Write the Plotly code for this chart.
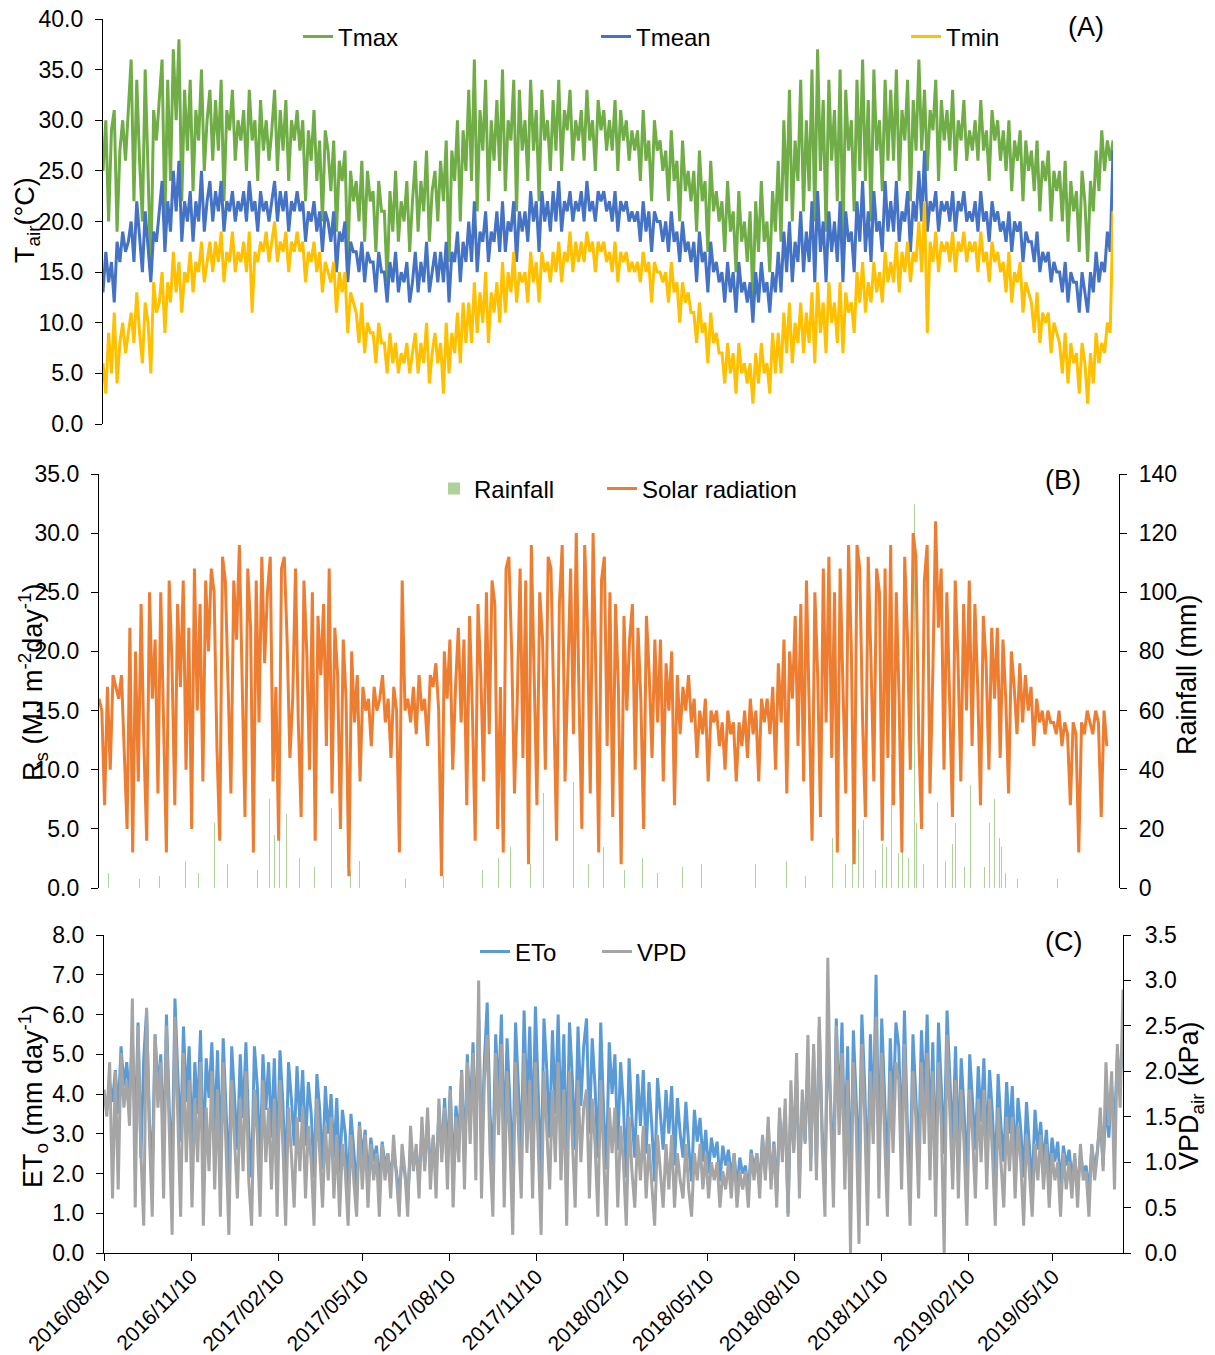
import plotly.graph_objects as go
import pandas as pd

START = "2016-08-10"
STEP = "3D"

# ---------------- Panel A: air temperature (degC), one value every 3 days ----------------
tmax = [
    25, 30, 20, 29, 31, 19, 27, 30, 26, 31,
    36, 22, 34, 26, 20, 35, 24, 15, 31, 28,
    32, 36, 20, 34, 24, 37, 30, 38, 22, 33,
    27, 34, 23, 31, 28, 35, 25, 30, 33, 26,
    32, 27, 34, 22, 31, 29, 33, 26, 30, 28,
    31, 25, 33, 28, 30, 24, 32, 27, 30, 26,
    29, 33, 25, 31, 27, 32, 24, 30, 28, 31,
    27, 30, 22, 29, 26, 31, 24, 28, 20, 29,
    27, 23, 28, 19, 26, 24, 27, 16, 25, 22,
    24, 20, 26, 18, 25, 22, 23, 17, 24, 21,
    21, 14, 23, 19, 25, 18, 22, 20, 24, 17,
    22, 26, 19, 24, 21, 27, 18, 23, 25, 20,
    26, 22, 28, 16, 27, 24, 30, 20, 29, 25,
    33, 24, 36, 21, 31, 27, 34, 22, 30, 26,
    32, 25, 35, 23, 30, 28, 34, 21, 33, 27,
    30, 24, 34, 27, 31, 22, 33, 28, 30, 25,
    32, 27, 34, 25, 31, 29, 33, 26, 30, 28,
    31, 26, 33, 28, 30, 25, 32, 29, 31, 27,
    30, 27, 32, 25, 31, 28, 30, 26, 29, 27,
    29, 24, 31, 26, 28, 22, 30, 27, 28, 25,
    27, 22, 29, 24, 26, 20, 28, 23, 25, 22,
    25, 19, 27, 22, 24, 17, 26, 21, 23, 20,
    22, 17, 24, 19, 21, 15, 23, 18, 20, 16,
    21, 12, 22, 17, 24, 18, 20, 15, 23, 19,
    26, 18, 30, 22, 33, 20, 28, 24, 34, 21,
    30, 23, 35, 20, 37, 25, 32, 19, 34, 26,
    31, 22, 35, 18, 33, 27, 30, 21, 34, 25,
    36, 24, 32, 20, 35, 27, 30, 23, 34, 26,
    33, 26, 35, 24, 31, 28, 34, 22, 32, 27,
    36, 27, 33, 25, 31, 29, 34, 24, 32, 28,
    31, 27, 33, 25, 30, 28, 32, 26, 29, 27,
    30, 26, 32, 27, 29, 24, 31, 28, 30, 26,
    29, 25, 30, 23, 28, 26, 29, 22, 28, 25,
    27, 23, 28, 21, 26, 24, 27, 20, 25, 23,
    25, 20, 26, 18, 24, 21, 23, 17, 25, 22,
    16, 24, 21, 27, 23, 29, 25, 28, 26, 28,
]
tmean = [
    13, 17, 14, 16, 12, 18, 16, 19, 17, 18,
    20, 16, 22, 18, 15, 21, 17, 14, 19, 18,
    21, 24, 17, 22, 19, 25, 21, 26, 18, 22,
    20, 23, 18, 22, 20, 25, 19, 22, 24, 20,
    23, 21, 24, 19, 22, 21, 23, 20, 22, 21,
    23, 20, 24, 21, 22, 19, 23, 21, 22, 20,
    22, 24, 20, 23, 21, 23, 19, 22, 21, 23,
    21, 22, 18, 21, 20, 22, 19, 21, 17, 21,
    20, 18, 21, 15, 19, 18, 20, 14, 18, 17,
    17, 15, 18, 14, 17, 16, 16, 13, 17, 15,
    15, 12, 16, 14, 17, 13, 15, 14, 16, 12,
    14, 17, 13, 16, 14, 18, 13, 15, 17, 14,
    17, 14, 18, 12, 17, 16, 19, 14, 18, 16,
    20, 16, 22, 15, 19, 18, 21, 16, 19, 18,
    21, 17, 22, 17, 20, 19, 22, 16, 21, 19,
    21, 18, 23, 20, 22, 17, 23, 20, 22, 19,
    23, 20, 24, 19, 22, 21, 23, 20, 22, 21,
    23, 20, 24, 21, 22, 20, 23, 22, 23, 21,
    22, 20, 23, 19, 22, 21, 22, 20, 21, 20,
    21, 18, 22, 19, 21, 17, 21, 20, 20, 18,
    20, 17, 21, 18, 19, 16, 20, 17, 18, 16,
    18, 14, 19, 16, 17, 13, 18, 15, 16, 14,
    15, 12, 16, 13, 15, 11, 16, 13, 14, 12,
    14, 10, 15, 12, 16, 13, 14, 11, 15, 13,
    17, 13, 19, 15, 20, 14, 18, 16, 21, 15,
    19, 16, 22, 14, 23, 17, 20, 14, 21, 17,
    20, 16, 22, 14, 21, 18, 19, 15, 22, 18,
    24, 17, 21, 16, 23, 19, 20, 17, 24, 19,
    22, 19, 24, 18, 21, 20, 23, 17, 22, 20,
    25, 20, 27, 19, 22, 21, 23, 19, 22, 21,
    22, 20, 23, 19, 22, 21, 23, 20, 21, 20,
    22, 19, 23, 20, 21, 18, 22, 20, 21, 19,
    20, 18, 21, 17, 20, 19, 20, 16, 19, 18,
    18, 16, 19, 15, 17, 16, 17, 14, 16, 15,
    15, 13, 16, 12, 15, 14, 14, 11, 15, 13,
    11, 15, 13, 17, 14, 16, 15, 19, 17, 27,
]
tmin = [
    6, 3, 9, 5, 11, 4, 8, 10, 7, 9,
    11, 8, 13, 9, 6, 12, 10, 5, 14, 11,
    12, 15, 9, 14, 12, 17, 13, 16, 11, 15,
    14, 17, 13, 16, 15, 18, 14, 16, 18, 15,
    18, 16, 19, 14, 17, 16, 19, 15, 17, 16,
    18, 15, 19, 11, 17, 16, 18, 17, 19, 16,
    18, 20, 16, 18, 17, 19, 15, 18, 17, 19,
    17, 18, 14, 17, 16, 18, 15, 17, 13, 16,
    15, 14, 16, 11, 15, 13, 15, 9, 13, 12,
    11, 8, 12, 7, 10, 9, 9, 6, 10, 8,
    8, 5, 9, 6, 8, 5, 7, 6, 8, 5,
    7, 9, 5, 8, 6, 10, 4, 7, 9, 6,
    8, 3, 10, 5, 9, 7, 11, 6, 12, 8,
    12, 8, 14, 9, 13, 10, 15, 8, 13, 11,
    14, 10, 16, 11, 15, 13, 17, 12, 15, 14,
    15, 12, 17, 14, 16, 12, 17, 15, 16, 14,
    17, 15, 18, 14, 17, 16, 19, 15, 18, 16,
    18, 16, 19, 17, 18, 15, 18, 17, 18, 16,
    17, 15, 18, 14, 17, 16, 17, 15, 16, 15,
    16, 14, 17, 15, 16, 12, 16, 15, 15, 14,
    15, 12, 16, 13, 14, 10, 14, 12, 13, 11,
    11, 8, 12, 9, 10, 6, 11, 8, 9, 7,
    7, 4, 8, 5, 7, 3, 8, 5, 6, 4,
    6, 2, 7, 4, 8, 5, 6, 3, 9, 5,
    9, 5, 11, 7, 12, 6, 10, 8, 12, 7,
    11, 8, 13, 6, 14, 9, 12, 7, 14, 10,
    12, 8, 14, 7, 13, 11, 12, 9, 15, 12,
    16, 11, 14, 12, 16, 13, 15, 12, 17, 14,
    16, 14, 18, 13, 17, 15, 18, 14, 17, 16,
    20, 15, 22, 9, 18, 16, 19, 15, 18, 17,
    18, 16, 19, 15, 18, 17, 19, 16, 18, 17,
    18, 15, 19, 16, 17, 14, 18, 16, 17, 15,
    16, 13, 17, 12, 15, 14, 16, 11, 14, 13,
    12, 9, 13, 8, 11, 10, 11, 7, 10, 9,
    8, 5, 9, 4, 8, 6, 7, 3, 8, 6,
    2, 7, 4, 9, 6, 8, 7, 10, 9, 21,
]

# ---------------- Panel B: solar radiation (MJ m-2 day-1) and rainfall (mm) ----------------
solar = [
    16, 15, 7, 17, 10, 18, 17, 16, 18, 12,
    5, 22, 3, 20, 9, 24, 12, 4, 25, 16,
    21, 8, 25, 14, 3, 26, 19, 7, 24, 17,
    26, 10, 22, 5, 27, 15, 24, 9, 26, 20,
    27, 25, 12, 4, 28, 26, 18, 8, 26, 21,
    29, 16, 6, 27, 22, 3, 26, 14, 28, 19,
    25, 28, 9, 17, 4, 27, 28, 21, 11, 16,
    27, 14, 6, 26, 20, 10, 25, 4, 23, 18,
    24, 12, 27, 8, 22, 18, 5, 21, 16, 1,
    20, 14, 18, 9, 17, 15, 16, 12, 17, 15,
    16, 18, 14, 16, 11, 17, 15, 3, 26, 15,
    16, 14, 17, 13, 18, 15, 16, 12, 18, 17,
    19, 15, 1, 20, 16, 21, 10, 17, 22, 14,
    21, 7, 23, 15, 4, 24, 18, 9, 25, 13,
    26, 24, 5, 17, 3, 27, 28, 20, 8, 16,
    27, 11, 26, 2, 29, 18, 7, 25, 21, 10,
    28, 27, 14, 4, 24, 29, 9, 19, 27, 13,
    30, 16, 5, 29, 22, 8, 30, 18, 3, 26,
    28, 12, 25, 6, 24, 17, 2, 23, 15, 21,
    24, 10, 22, 16, 5, 23, 18, 11, 21, 14,
    21, 9, 19, 15, 20, 7, 18, 13, 17, 15,
    18, 14, 16, 11, 15, 13, 16, 9, 15, 14,
    15, 12, 14, 10, 15, 13, 14, 9, 14, 12,
    15, 11, 16, 13, 15, 9, 16, 14, 16, 13,
    17, 10, 19, 14, 21, 8, 20, 16, 23, 12,
    24, 9, 26, 15, 4, 25, 18, 6, 27, 14,
    28, 11, 25, 3, 27, 17, 8, 29, 20, 2,
    29, 27, 14, 6, 28, 19, 9, 27, 25, 4,
    27, 11, 29, 7, 25, 16, 3, 28, 21, 10,
    30, 28, 13, 5, 26, 29, 8, 18, 31, 22,
    27, 10, 25, 16, 6, 26, 19, 9, 24, 15,
    26, 12, 24, 17, 7, 23, 19, 10, 22, 16,
    22, 11, 21, 16, 8, 20, 17, 13, 19, 14,
    18, 15, 17, 12, 16, 14, 15, 13, 15, 14,
    14, 13, 15, 12, 14, 13, 7, 14, 13, 3,
    14, 13, 15, 14, 13, 15, 14, 6, 15, 12,
]
rain_dates = [
    "2016-08-20", "2016-09-22", "2016-10-14", "2016-10-27", "2016-11-10", "2016-11-24",
    "2016-12-11", "2016-12-25", "2017-01-13", "2017-01-26", "2017-02-08", "2017-02-14",
    "2017-02-19", "2017-02-26", "2017-03-12", "2017-03-28", "2017-04-15", "2017-05-06",
    "2017-05-15", "2017-07-04", "2017-08-13", "2017-09-24", "2017-10-11", "2017-10-24",
    "2017-11-05", "2017-11-14", "2017-11-28", "2017-12-06", "2017-12-21", "2017-12-30",
    "2018-01-15", "2018-01-31", "2018-02-23", "2018-03-14", "2018-03-30", "2018-04-26",
    "2018-05-16", "2018-07-13", "2018-08-15", "2018-09-04", "2018-10-03", "2018-10-17",
    "2018-10-24", "2018-10-31", "2018-11-05", "2018-11-18", "2018-11-25", "2018-11-30",
    "2018-12-05", "2018-12-12", "2018-12-17", "2018-12-23", "2018-12-29", "2019-01-01",
    "2019-01-08", "2019-01-23", "2019-02-01", "2019-02-08", "2019-02-11", "2019-02-21",
    "2019-02-27", "2019-03-14", "2019-03-20", "2019-03-25", "2019-03-30", "2019-04-01",
    "2019-04-06", "2019-04-19", "2019-05-31",
]
rain_mm = [
    5, 3, 4, 6, 9, 5, 22, 8, 12, 6, 30, 18, 50, 25, 10, 7, 27, 6, 9, 3,
    4, 6, 10, 14, 20, 8, 32, 12, 18, 36, 8, 14, 6, 10, 5, 7, 8, 8, 9, 4,
    17, 8, 34, 20, 23, 6, 15, 14, 45, 12, 36, 10, 130, 22, 8, 29, 9, 15, 22, 7,
    35, 7, 22, 30, 17, 14, 5, 3, 3,
]

# ---------------- Panel C: reference ET (mm day-1) and VPD (kPa) ----------------
eto = [
    4.0, 3.6, 4.3, 3.8, 4.6, 3.5, 5.2, 4.2, 4.8, 3.9,
    5.4, 3.0, 5.8, 2.4, 4.9, 6.1, 3.3, 2.0, 5.5, 4.1,
    5.0, 2.5, 6.0, 3.6, 2.1, 6.4, 4.5, 2.8, 5.7, 3.8,
    5.2, 2.6, 4.8, 3.5, 5.6, 2.3, 4.9, 3.9, 5.3, 3.0,
    5.1, 2.4, 5.4, 3.7, 1.8, 5.2, 4.0, 2.6, 5.0, 3.4,
    5.3, 3.1, 1.9, 5.2, 4.2, 2.2, 5.0, 3.6, 4.8, 2.9,
    4.9, 2.4, 5.1, 3.8, 1.8, 4.8, 3.9, 2.7, 4.7, 3.3,
    4.6, 2.7, 4.3, 3.5, 1.9, 4.5, 3.6, 2.1, 4.2, 3.0,
    4.0, 2.4, 3.9, 2.0, 3.6, 3.0, 1.6, 3.5, 2.6, 1.5,
    3.3, 2.4, 3.1, 1.8, 2.9, 2.3, 2.7, 1.7, 2.8, 2.2,
    2.5, 1.9, 2.6, 2.1, 1.5, 2.4, 2.0, 1.3, 2.7, 2.2,
    2.6, 1.8, 3.1, 2.2, 3.4, 2.0, 2.9, 1.9, 3.6, 2.5,
    3.9, 2.4, 4.2, 1.9, 3.7, 2.8, 4.6, 2.3, 5.0, 3.4,
    5.3, 3.0, 5.9, 2.6, 4.8, 6.3, 3.5, 2.2, 5.5, 3.9,
    6.0, 2.7, 5.4, 3.8, 1.9, 5.8, 4.3, 2.5, 6.1, 3.6,
    5.7, 2.8, 6.2, 4.1, 1.8, 5.9, 4.6, 2.9, 5.6, 3.5,
    6.0, 3.2, 5.5, 2.2, 5.8, 4.4, 2.6, 5.7, 3.7, 5.2,
    5.9, 3.0, 5.4, 4.2, 2.4, 5.8, 3.6, 2.1, 5.3, 4.0,
    5.0, 2.6, 4.8, 3.7, 1.9, 4.9, 3.4, 2.4, 4.5, 3.2,
    4.6, 2.5, 4.3, 3.2, 1.8, 4.4, 3.5, 2.6, 4.1, 3.0,
    4.2, 2.2, 3.9, 3.0, 2.4, 3.8, 2.7, 1.8, 3.6, 2.8,
    3.4, 2.3, 3.1, 2.0, 2.9, 2.4, 2.8, 1.8, 2.7, 2.2,
    2.6, 1.9, 2.5, 1.6, 2.4, 2.0, 2.2, 1.5, 2.6, 2.1,
    2.5, 1.7, 2.9, 2.0, 3.2, 1.8, 2.8, 1.5, 3.4, 2.6,
    3.6, 1.0, 3.9, 2.6, 4.4, 1.9, 3.8, 2.8, 4.8, 2.4,
    5.1, 2.2, 5.7, 3.1, 1.7, 5.4, 3.8, 1.9, 5.9, 3.4,
    5.8, 2.5, 5.2, 1.3, 5.6, 3.9, 2.1, 6.0, 4.2, 1.6,
    5.5, 3.2, 7.0, 2.3, 5.9, 4.0, 1.8, 5.4, 3.5, 5.8,
    5.2, 2.6, 6.1, 3.3, 1.7, 5.5, 4.1, 2.4, 5.6, 3.7,
    6.0, 2.9, 5.3, 1.9, 5.8, 4.2, 2.5, 6.1, 4.4, 2.7,
    5.2, 2.4, 4.9, 3.6, 1.8, 5.0, 3.8, 2.6, 4.7, 3.3,
    4.9, 2.5, 4.6, 3.5, 1.9, 4.5, 3.2, 2.3, 4.3, 3.0,
    4.2, 2.2, 3.9, 3.1, 1.9, 3.8, 2.7, 1.6, 3.6, 2.6,
    3.3, 2.2, 3.1, 1.9, 2.9, 2.3, 2.8, 1.7, 2.7, 2.2,
    2.6, 1.9, 2.4, 1.6, 2.5, 2.0, 2.2, 1.5, 2.7, 2.1,
    2.6, 3.4, 2.2, 3.8, 2.9, 4.2, 3.1, 5.0, 4.4, 5.3,
]
vpd = [
    1.8, 1.5, 2.1, 0.6, 2.0, 0.7, 2.2, 1.6, 1.9, 1.4,
    2.8, 0.5, 2.5, 1.1, 0.3, 2.7, 1.3, 0.4, 2.4, 1.6,
    2.1, 0.6, 2.5, 1.2, 0.2, 2.6, 1.5, 0.4, 2.2, 1.0,
    1.9, 0.5, 1.7, 1.0, 2.1, 0.3, 1.6, 0.9, 2.0, 0.7,
    1.8, 0.4, 2.1, 1.1, 0.2, 1.9, 1.2, 0.6, 1.7, 0.9,
    2.0, 0.8, 0.3, 1.8, 1.3, 0.4, 1.9, 1.0, 1.6, 0.7,
    1.7, 0.4, 1.9, 1.2, 0.3, 1.6, 1.1, 0.5, 1.5, 0.9,
    1.6, 0.6, 1.4, 1.0, 0.3, 1.7, 1.1, 0.5, 1.4, 0.8,
    1.5, 0.6, 1.3, 0.4, 1.2, 0.9, 0.3, 1.3, 0.8, 0.4,
    1.4, 0.7, 1.3, 0.5, 1.2, 0.8, 1.1, 0.4, 1.2, 0.8,
    1.1, 0.6, 1.3, 0.8, 0.4, 1.2, 0.9, 0.4, 1.4, 0.9,
    1.2, 0.6, 1.5, 0.9, 1.6, 0.7, 1.3, 0.6, 1.7, 1.0,
    1.6, 0.7, 1.8, 0.5, 1.5, 1.0, 2.0, 0.7, 2.1, 1.2,
    2.2, 0.8, 3.0, 0.6, 1.9, 2.4, 1.1, 0.4, 2.2, 1.3,
    2.3, 0.5, 2.0, 1.2, 0.2, 2.1, 1.4, 0.6, 2.2, 1.1,
    1.9, 0.6, 2.1, 1.2, 0.2, 2.0, 1.4, 0.7, 1.8, 1.0,
    2.1, 0.8, 1.8, 0.3, 2.0, 1.3, 0.5, 1.9, 1.0, 1.6,
    1.8, 0.6, 1.7, 1.2, 0.4, 1.9, 1.0, 0.3, 1.6, 1.1,
    1.6, 0.5, 1.4, 1.0, 0.3, 1.5, 0.9, 0.5, 1.3, 0.8,
    1.4, 0.6, 1.2, 0.8, 0.3, 1.3, 0.9, 0.5, 1.2, 0.7,
    1.3, 0.5, 1.1, 0.8, 0.6, 1.2, 0.7, 0.4, 1.1, 0.8,
    1.2, 0.7, 1.1, 0.6, 1.0, 0.8, 1.0, 0.5, 0.9, 0.7,
    1.0, 0.6, 1.1, 0.5, 0.9, 0.7, 0.9, 0.5, 1.1, 0.8,
    1.1, 0.6, 1.3, 0.8, 1.5, 0.7, 1.2, 0.5, 1.6, 1.0,
    1.7, 0.4, 1.9, 1.1, 2.2, 0.6, 1.8, 1.2, 2.4, 0.9,
    2.3, 0.8, 2.6, 1.2, 0.4, 3.25, 1.5, 0.5, 2.5, 1.3,
    2.2, 0.7, 1.9, 0.0, 2.1, 1.4, 0.1, 2.3, 1.5, 0.3,
    2.0, 1.2, 2.6, 0.6, 2.2, 1.4, 0.4, 2.0, 1.1, 2.1,
    1.9, 0.7, 2.3, 1.2, 0.3, 2.0, 1.5, 0.6, 2.1, 1.2,
    2.2, 0.8, 2.0, 0.4, 2.1, 1.4, 0.0, 2.4, 1.5, 0.7,
    1.9, 0.6, 1.8, 1.2, 0.3, 1.8, 1.3, 0.6, 1.7, 1.0,
    1.8, 0.7, 1.7, 1.1, 0.3, 1.6, 1.0, 0.5, 1.5, 0.9,
    1.5, 0.6, 1.4, 1.0, 0.3, 1.3, 0.9, 0.4, 1.2, 0.8,
    1.3, 0.7, 1.2, 0.5, 1.1, 0.8, 1.0, 0.4, 1.1, 0.7,
    1.0, 0.6, 1.1, 0.5, 1.2, 0.8, 0.9, 0.4, 1.2, 0.8,
    1.1, 1.6, 0.9, 2.1, 1.4, 2.0, 0.7, 2.3, 1.6, 2.9,
]

tick_dates = ["2016-08-10", "2016-11-10", "2017-02-10", "2017-05-10", "2017-08-10",
              "2017-11-10", "2018-02-10", "2018-05-10", "2018-08-10", "2018-11-10",
              "2019-02-10", "2019-05-10"]


def dates_for(series):
    return pd.date_range(START, periods=len(series), freq=STEP)


W, H = 1215, 1355
FONT = "Liberation Sans, Arial, sans-serif"


def fx(px):
    return px / W


def fy(py):
    return 1 - py / H


A_X, A_Y = (103, 1113), (19, 424)
B_X, B_Y = (99, 1119), (474, 888)
C_X, C_Y = (104, 1123), (935, 1253)


def dom_x(p):
    return [fx(p[0]), fx(p[1])]


def dom_y(p):
    return [fy(p[1]), fy(p[0])]


fig = go.Figure()

# Panel A
fig.add_trace(go.Scatter(x=dates_for(tmax), y=tmax, name="Tmax", mode="lines",
                         line=dict(color="#70AD47", width=3), xaxis="x", yaxis="y", legend="legend"))
fig.add_trace(go.Scatter(x=dates_for(tmean), y=tmean, name="Tmean", mode="lines",
                         line=dict(color="#4472C4", width=3), xaxis="x", yaxis="y", legend="legend2"))
fig.add_trace(go.Scatter(x=dates_for(tmin), y=tmin, name="Tmin", mode="lines",
                         line=dict(color="#FFC000", width=3), xaxis="x", yaxis="y", legend="legend3"))

# Panel B
fig.add_trace(go.Bar(x=pd.to_datetime(rain_dates), y=rain_mm, name="Rainfall",
                     width=86400000, marker=dict(color="rgba(112,173,71,0.55)", line=dict(width=0)),
                     xaxis="x2", yaxis="y2", legend="legend4"))
fig.add_trace(go.Scatter(x=dates_for(solar), y=solar, name="Solar radiation", mode="lines",
                         line=dict(color="#ED7D31", width=3), xaxis="x2", yaxis="y3", legend="legend5"))

# Panel C
fig.add_trace(go.Scatter(x=dates_for(eto), y=eto, name="ETo", mode="lines",
                         line=dict(color="#5B9BD5", width=3), xaxis="x3", yaxis="y4", legend="legend6"))
fig.add_trace(go.Scatter(x=dates_for(vpd), y=vpd, name="VPD", mode="lines",
                         line=dict(color="#A5A5A5", width=3), xaxis="x3", yaxis="y5", legend="legend7"))

axis_common = dict(showline=True, linecolor="black", linewidth=1.3, ticks="outside", ticklen=7,
                   tickcolor="black", tickwidth=1.3, showgrid=False, zeroline=False, automargin=False,
                   tickfont=dict(size=23, color="black", family=FONT))
y_common = dict(axis_common, ticklabelstandoff=7)
hidden_x = dict(showline=False, showticklabels=False, ticks="", showgrid=False, zeroline=False,
                type="date", automargin=False)


def leg(text_x, text_y):
    return dict(orientation="h", xanchor="left", yanchor="middle", bgcolor="rgba(0,0,0,0)",
                x=fx(text_x - 40), y=fy(text_y), borderwidth=0,
                font=dict(size=24, color="black", family=FONT))


fig.update_layout(
    width=W, height=H, autosize=False,
    margin=dict(l=0, r=0, t=0, b=0, pad=0),
    paper_bgcolor="white", plot_bgcolor="white",
    font=dict(family=FONT, color="black"),
    bargap=0,
    xaxis=dict(domain=dom_x(A_X), anchor="y", range=["2016-08-10", "2019-07-23"], **hidden_x),
    yaxis=dict(domain=dom_y(A_Y), anchor="x", range=[0, 40], dtick=5, tickformat=".1f", **y_common),
    xaxis2=dict(domain=dom_x(B_X), anchor="y2", range=["2016-08-10", "2019-08-05"], **hidden_x),
    yaxis2=dict(domain=dom_y(B_Y), anchor="x2", side="right", range=[0, 140], dtick=20, **y_common),
    yaxis3=dict(overlaying="y2", anchor="x2", side="left", range=[0, 35], dtick=5, tickformat=".1f",
                **y_common),
    xaxis3=dict(domain=dom_x(C_X), anchor="y4", type="date", range=["2016-08-10", "2019-07-23"],
                tickvals=pd.to_datetime(tick_dates), tickformat="%Y/%m/%d", tickangle=-45,
                ticklabelstandoff=-5,
                **{**axis_common, "tickfont": dict(size=21, color="black", family=FONT)}),
    yaxis4=dict(domain=dom_y(C_Y), anchor="x3", range=[0, 8], dtick=1, tickformat=".1f", **y_common),
    yaxis5=dict(overlaying="y4", anchor="x3", side="right", range=[0, 3.5], dtick=0.5, tickformat=".1f",
                **dict(y_common, ticklabelstandoff=9)),
    legend=leg(338, 37),
    legend2=leg(636, 37),
    legend3=leg(946, 37),
    legend4=leg(474, 489),
    legend5=leg(642, 489),
    legend6=leg(515, 952),
    legend7=leg(637, 952),
    showlegend=True,
)

ann_font = dict(size=27, color="black", family=FONT)
annotations = [
    dict(text="T<sub>air</sub>(°C)", x=fx(27), y=fy(220), textangle=-90),
    dict(text="R<sub>s</sub> (MJ m<sup>-2</sup>day<sup>-1</sup>)", x=fx(33), y=fy(682), textangle=-90),
    dict(text="Rainfall (mm)", x=fx(1187), y=fy(675), textangle=-90),
    dict(text="ET<sub>o</sub> (mm day<sup>-1</sup>)", x=fx(33), y=fy(1097), textangle=-90),
    dict(text="VPD<sub>air</sub> (kPa)", x=fx(1191), y=fy(1096), textangle=-90),
    dict(text="(A)", x=fx(1086), y=fy(27), textangle=0),
    dict(text="(B)", x=fx(1063), y=fy(480), textangle=0),
    dict(text="(C)", x=fx(1063), y=fy(942), textangle=0),
]
fig.update_layout(annotations=[dict(a, xref="paper", yref="paper", showarrow=False,
                                    xanchor="center", yanchor="middle", font=ann_font)
                               for a in annotations])

fig.write_html("out.html")
